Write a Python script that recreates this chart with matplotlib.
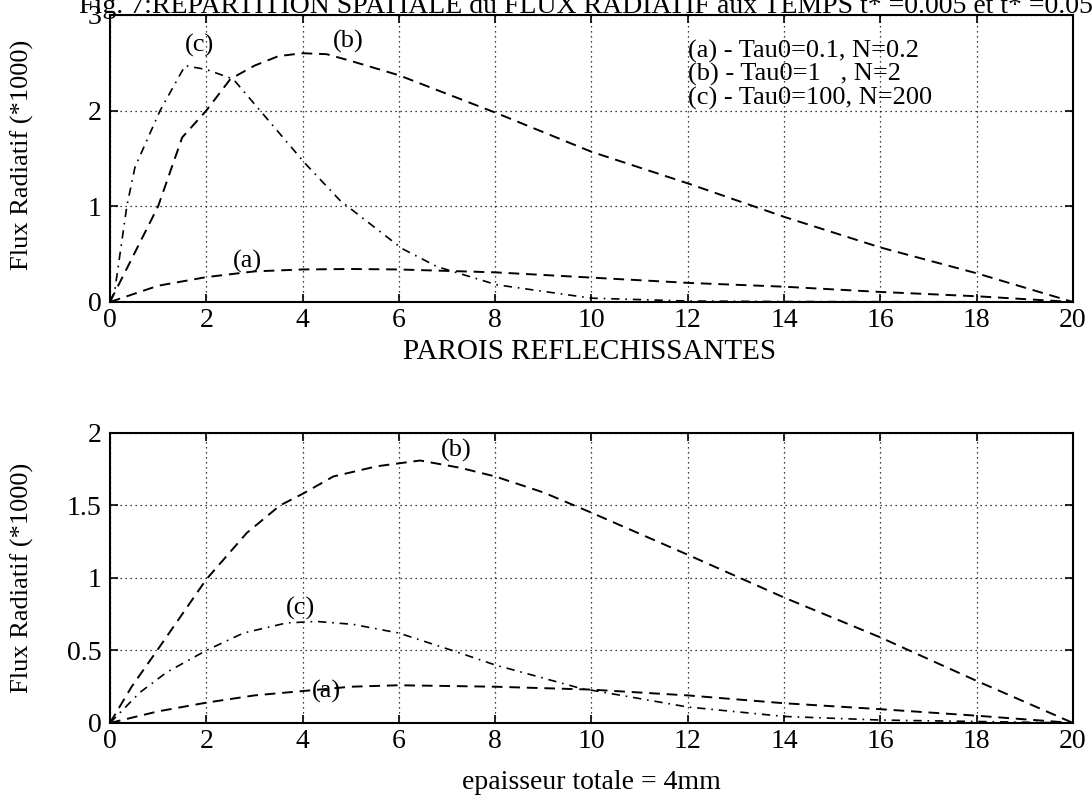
import matplotlib
matplotlib.use("Agg")
import matplotlib.pyplot as plt

# ---- data (flux *1000 vs position) ----
# upper panel
xa_top = [0, 1, 2, 3, 4, 5, 6, 8, 10, 12, 14, 16, 18, 20]
ya_top = [0, 0.17, 0.26, 0.32, 0.34, 0.345, 0.34, 0.31, 0.255, 0.20, 0.16, 0.105, 0.06, 0]

xb_top = [0, 0.5, 1, 1.5, 2, 2.5, 3, 3.5, 4, 4.5, 5, 6, 8, 10, 12, 14, 16, 18, 20]
yb_top = [0, 0.5, 1.0, 1.72, 2.0, 2.33, 2.47, 2.57, 2.6, 2.59, 2.52, 2.37, 1.98, 1.57, 1.24, 0.89, 0.57, 0.30, 0]

xc_top = [0, 0.1, 0.35, 0.52, 1.04, 1.56, 2.0, 2.56, 3.0, 4.05, 4.78, 6.06, 6.79, 8.03, 10, 12, 14, 16, 18, 20]
yc_top = [0, 0.12, 1.0, 1.41, 2.0, 2.47, 2.43, 2.33, 2.07, 1.45, 1.06, 0.56, 0.37, 0.18, 0.04, 0.01, 0.005, 0.003, 0.002, 0]

# lower panel (parois reflechissantes)
xa_bot = [0, 1, 2, 3, 4, 5, 6, 8, 10, 12, 14, 16, 18, 20]
ya_bot = [0, 0.08, 0.14, 0.19, 0.22, 0.25, 0.26, 0.25, 0.23, 0.19, 0.136, 0.095, 0.05, 0]

xb_bot = [0, 0.45, 1, 2, 2.84, 3.53, 4, 4.64, 5.54, 6.44, 7.27, 8, 9, 10, 12, 14, 16, 18, 20]
yb_bot = [0, 0.25, 0.51, 0.99, 1.31, 1.50, 1.58, 1.70, 1.77, 1.81, 1.76, 1.70, 1.59, 1.45, 1.16, 0.865, 0.59, 0.29, 0]

xc_bot = [0, 0.62, 1.18, 2, 2.77, 3.67, 4.29, 5.05, 6, 7.2, 8, 9.76, 12, 14, 16, 18, 20]
yc_bot = [0, 0.21, 0.35, 0.5, 0.62, 0.69, 0.70, 0.68, 0.62, 0.49, 0.40, 0.24, 0.11, 0.045, 0.02, 0.01, 0]

legend_lines = ["(a) - Tau0=0.1, N=0.2",
                "(b) - Tau0=1   , N=2",
                "(c) - Tau0=100, N=200"]

plt.rcParams['font.family'] = 'Liberation Serif'
plt.rcParams['font.size'] = 19

dash = (0, (5.5, 3.5))
dashdot = (0, (5, 3.5, 1, 3.5))

fig = plt.figure(figsize=(10.92, 8), dpi=100)
ax1 = fig.add_axes([0.1007, 0.6225, 0.8819, 0.3588])
ax2 = fig.add_axes([0.1007, 0.0963, 0.8819, 0.3625])

def style(ax, ymax, yticks, ylabels):
    ax.set_xlim(0, 20)
    ax.set_ylim(0, ymax)
    ax.set_xticks(range(0, 21, 2))
    ax.set_yticks(yticks)
    ax.set_yticklabels(ylabels)
    ax.grid(True, color='black', linestyle=(0, (1, 3)), linewidth=0.9)
    ax.tick_params(direction='in', top=True, right=True, length=6, width=1.2, pad=4)
    ax.tick_params(axis='x', labelsize=20)
    ax.tick_params(axis='y', labelsize=20, pad=6)
    for s in ax.spines.values():
        s.set_linewidth(1.5)

# upper panel
ax1.plot(xa_top, ya_top, color='black', lw=1.4, linestyle=dash)
ax1.plot(xb_top, yb_top, color='black', lw=1.4, linestyle=dash)
ax1.plot(xc_top, yc_top, color='black', lw=1.2, linestyle=dashdot)
style(ax1, 3, [0, 1, 2, 3], ["0", "1", "2", "3"])
ax1.text(1.85, 2.68, "(c)", ha='center', va='center')
ax1.text(4.95, 2.72, "(b)", ha='center', va='center')
ax1.text(2.85, 0.42, "(a)", ha='center', va='center')
for i, t in enumerate(legend_lines):
    ax1.text(12.0, 2.62 - i * 0.245, t, ha='left', va='center', fontsize=19)

# lower panel
ax2.plot(xa_bot, ya_bot, color='black', lw=1.4, linestyle=dash)
ax2.plot(xb_bot, yb_bot, color='black', lw=1.4, linestyle=dash)
ax2.plot(xc_bot, yc_bot, color='black', lw=1.2, linestyle=dashdot)
style(ax2, 2, [0, 0.5, 1, 1.5, 2], ["0", "0.5", "1", "1.5", "2"])
ax2.text(7.2, 1.88, "(b)", ha='center', va='center')
ax2.text(3.95, 0.79, "(c)", ha='center', va='center')
ax2.text(4.5, 0.22, "(a)", ha='center', va='center')
ax2.set_xlabel("epaisseur totale = 4mm", labelpad=12, fontsize=20)

fig.text(22 / 1092, 0.806, "Flux Radiatif (*1000)", rotation=90, ha='center', va='center', fontsize=19)
fig.text(22 / 1092, 0.2775, "Flux Radiatif (*1000)", rotation=90, ha='center', va='center', fontsize=19)

fig.text(0.54, 0.56, "PAROIS REFLECHISSANTES", ha='center', va='center', fontsize=21)
fig.text(0.072, 0.9835, "Fig. 7:REPARTITION SPATIALE du FLUX RADIATIF aux TEMPS t* =0.005 et t* =0.05",
         ha='left', va='baseline', fontsize=20)

fig.savefig("out.png", dpi=100)
